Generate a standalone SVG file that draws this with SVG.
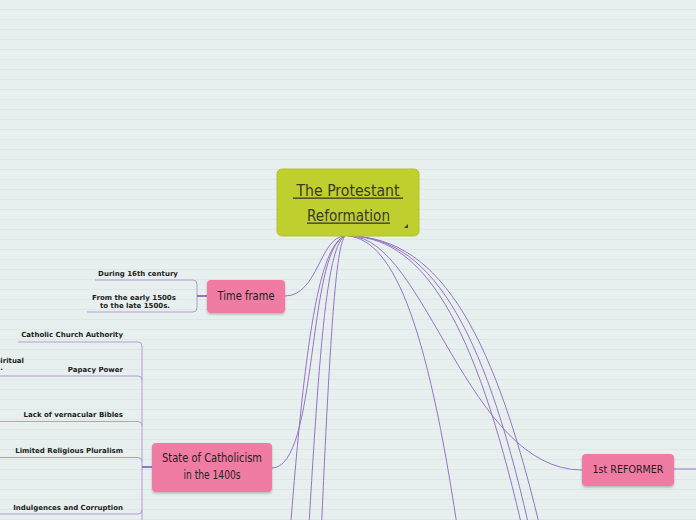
<svg xmlns="http://www.w3.org/2000/svg" width="696" height="520" viewBox="0 0 696 520">
<defs>
<pattern id="ruled" width="696" height="10" patternUnits="userSpaceOnUse">
<rect width="696" height="10" fill="#e8f0ef"/>
<rect y="9" width="696" height="1" fill="#dde7e5"/>
</pattern>
<filter id="sh" x="-10%" y="-10%" width="120%" height="140%">
<feDropShadow dx="0" dy="1.5" stdDeviation="1" flood-color="#000" flood-opacity="0.25"/>
</filter>
</defs>
<style>
.link{fill:none;stroke:#9674c4;stroke-width:1}
.br{fill:none;stroke:#b49ad6;stroke-width:1}
.stub{fill:none;stroke:#7d4fb3;stroke-width:1.5}
.pink{fill:#f07ca3}
.nt{font-family:"DejaVu Sans",sans-serif;fill:#1e1e1e}
.lt{font-family:"DejaVu Sans",sans-serif;font-weight:bold;font-size:7px;fill:#222}
.rt{font-family:"DejaVu Sans",sans-serif;font-size:15px;fill:#3a3a2a}
</style>
<rect width="696" height="520" fill="url(#ruled)"/>

<g id="connectors">
<path class="link" d="M345,236 C320,236 318,296 285,296"/>
<path class="link" d="M345,236 C307,250 318,468 272,468"/>
<path class="link" d="M345,236 C320,246 305,330 288,560"/>
<path class="link" d="M345,236 C328,246 320,330 307,560"/>
<path class="link" d="M345,236 C336,246 330,330 320,560"/>
<path class="link" d="M348,236 C395,240 430,330 462,560"/>
<path class="link" d="M350,236 C430,238 480,340 525,540"/>
<path class="link" d="M350,236 C436,238 488,340 532,540"/>
<path class="link" d="M350,236 C442,238 496,338 543,540"/>
<path class="link" d="M350,236 C425,238 468,470 582,470"/>
<path class="link" d="M674,469 H696"/>
<!-- Time frame bracket -->
<path class="br" d="M95,280 H193 Q197,280 197,284 V308 Q197,312 193,312 H87"/>
<path class="stub" d="M197,296 H207"/>
<!-- State bracket -->
<path class="br" d="M18,342 H138 Q142,342 142,346 V520"/>
<path class="br" d="M0,376 H138 Q142,376 142,380"/>
<path class="br" d="M0,421.5 H138 Q142,421.5 142,425.5"/>
<path class="br" d="M0,457.5 H138 Q142,457.5 142,461.5"/>
<path class="br" d="M0,514 H138 Q142,514 142,510"/>
<path class="stub" d="M142,467 H152"/>
</g>

<g id="root">
<rect x="277" y="169" width="142" height="67" rx="5" fill="#bfcf2e" stroke="#b3c326" stroke-width="1"/>
<text class="rt" x="348" y="196" text-anchor="middle" textLength="103" lengthAdjust="spacingAndGlyphs">The Protestant</text>
<rect x="293" y="197.5" width="110" height="1.3" fill="#3a3a2a"/>
<text class="rt" x="348.5" y="221" text-anchor="middle" textLength="83" lengthAdjust="spacingAndGlyphs">Reformation</text>
<rect x="307" y="222.5" width="83" height="1.3" fill="#3a3a2a"/>
<path d="M408,224 L408,228 L404,228 Z" fill="#444"/>
</g>

<g id="time-frame">
<rect x="207" y="280" width="78" height="33" rx="4" class="pink" filter="url(#sh)"/>
<text class="nt" x="246" y="300" font-size="11.5" text-anchor="middle" textLength="57" lengthAdjust="spacingAndGlyphs">Time frame</text>
</g>
<g id="tf-during">
<text class="lt" x="138" y="276" text-anchor="middle">During 16th century</text>
</g>
<g id="tf-from">
<text class="lt" x="134" y="299.5" text-anchor="middle">From the early 1500s</text>
<text class="lt" x="135" y="307.5" text-anchor="middle">to the late 1500s.</text>
</g>

<g id="state">
<rect x="152" y="443" width="120" height="49" rx="4" class="pink" filter="url(#sh)"/>
<text class="nt" x="212" y="462" font-size="11.5" text-anchor="middle" textLength="100" lengthAdjust="spacingAndGlyphs">State of Catholicism</text>
<text class="nt" x="212" y="478.5" font-size="11.5" text-anchor="middle" textLength="57" lengthAdjust="spacingAndGlyphs">in the 1400s</text>
</g>
<g id="s-authority"><text class="lt" x="123" y="337" text-anchor="end">Catholic Church Authority</text></g>
<g id="s-spiritual"><text class="lt" x="24" y="362.5" text-anchor="end">Spiritual</text><text class="lt" x="3" y="370" text-anchor="end">.</text></g>
<g id="s-papacy"><text class="lt" x="123" y="371.5" text-anchor="end">Papacy Power</text></g>
<g id="s-bibles"><text class="lt" x="123" y="416.5" text-anchor="end">Lack of vernacular Bibles</text></g>
<g id="s-pluralism"><text class="lt" x="123" y="452.5" text-anchor="end">Limited Religious Pluralism</text></g>
<g id="s-indulgences"><text class="lt" x="123" y="509.5" text-anchor="end">Indulgences and Corruption</text></g>

<g id="reformer">
<rect x="582" y="454" width="92" height="32" rx="4" class="pink" filter="url(#sh)"/>
<text class="nt" x="628" y="473" font-size="11" text-anchor="middle" textLength="71" lengthAdjust="spacingAndGlyphs">1st REFORMER</text>
</g>
</svg>
